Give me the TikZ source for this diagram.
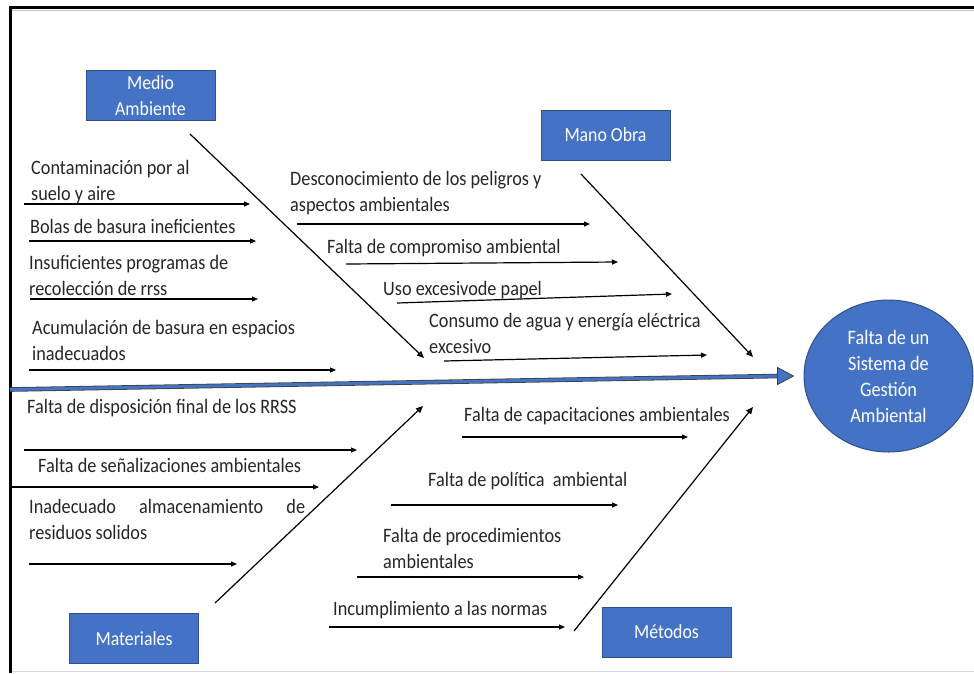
\documentclass[tikz,border=0pt]{standalone}
\usepackage{fontspec}
\setmainfont{Carlito}[FakeStretch=0.89]
\usepackage{xcolor}
\usepackage{tikz}
\usetikzlibrary{
	arrows.meta,
	calc,
	shapes.geometric
}
\definecolor{BoxBlue}{RGB}{68,114,196}
\definecolor{EdgeBlue}{RGB}{47,82,143}
\definecolor{TipBlue}{RGB}{31,56,100}

\tikzset{
	categoria/.style={draw=EdgeBlue, fill=BoxBlue, line width=1pt, text=white, align=center,
		minimum width=129pt, minimum height=50pt, inner sep=0pt, font=\fontsize{20}{26}\selectfont},
	efecto/.style={ellipse, draw=EdgeBlue, fill=BoxBlue, line width=1pt, text=white, align=center,
		minimum width=169pt, minimum height=152pt, inner sep=0pt, font=\fontsize{20.5}{26}\selectfont},
	causa/.style={anchor=base west, inner sep=0pt, align=left, text=black!85,
		font=\fontsize{20.5}{25.5}\selectfont},
	flecha/.style={line width=1.2pt, -{Triangle[length=6pt, width=5pt, fill=TipBlue]}},
	espina/.style={line width=1.2pt, -{Triangle[length=7pt, width=6pt, fill=TipBlue]}},
	columna/.style={draw=black!75, double=BoxBlue, double distance=3pt, line width=0.8pt}
}

\begin{document}
\begin{tikzpicture}[x=1pt, y=-1pt]
	\useasboundingbox (0,0) rectangle (974,673);
	
	% marco
	\draw[gray!45, line width=1pt] (10,10) -- (974,10);
	\draw[gray!30, line width=1pt] (10,671.5) -- (974,671.5);
	\draw[line width=2.6pt] (974,7.5) -- (10.5,7.5) -- (10.5,673);
	
	% efecto y categorias
	\node[efecto] (efecto) at (888.5,376) {Falta de un\\Sistema de\\Gestión\\Ambiental};
	\node[categoria] (medio) at (150.5,95.5) {Medio\\Ambiente};
	\node[categoria] (mano) at (605.5,135) {Mano Obra};
	\node[categoria] (materiales) at (134,638.5) {Materiales};
	\node[categoria] (metodos) at (666.5,632) {Métodos};
	
	% columna principal
	\coordinate (cola) at (10,389.5);
	\coordinate (punta) at ($(efecto.west)+(-10pt,0)$);
	\draw[columna] (cola) -- ($(punta)+(-15pt,0)$);
	\draw[draw=black!75, fill=BoxBlue, line width=0.8pt] ($(punta)+(-16pt,-8.5pt)$) -- (punta) -- ($(punta)+(-16pt,8.5pt)$) -- cycle;
	
	% espinas
	\coordinate (medio1) at (190,134);   \coordinate (medio2) at (424,358);
	\coordinate (mano1) at (581,174);    \coordinate (mano2) at (753,357);
	\coordinate (mat1) at (215,603);     \coordinate (mat2) at (423,406);
	\coordinate (met1) at (574,631);     \coordinate (met2) at (753,407);
	\draw[espina] (medio1) -- (medio2);
	\draw[espina] (mano1) -- (mano2);
	\draw[espina] (mat1) -- (mat2);
	\draw[espina] (met1) -- (met2);
	
	% Medio Ambiente
	\node[causa] (ma1) at (31,200) {Contaminación por al\\suelo y aire};
	\coordinate (ma1s) at (24,204);   \coordinate (ma1e) at (250,204);
	\draw[flecha] (ma1s) -- (ma1e);
	\node[causa] (ma2) at (30,233) {Bolas de basura ineficientes};
	\coordinate (ma2s) at (29,241);   \coordinate (ma2e) at (256,241);
	\draw[flecha] (ma2s) -- (ma2e);
	\node[causa] (ma3) at (29,295) {Insuficientes programas de\\recolección de rrss};
	\coordinate (ma3s) at (30,299);   \coordinate (ma3e) at (258,299);
	\draw[flecha] (ma3s) -- (ma3e);
	\node[causa] (ma4) at (32,360) {Acumulación de basura en espacios\\inadecuados};
	\coordinate (ma4s) at (29,370);   \coordinate (ma4e) at (336,370);
	\draw[flecha] (ma4s) -- (ma4e);
	
	% Materiales
	\node[causa] (mt1) at (27,413) {Falta de disposición final de los RRSS};
	\coordinate (mt1s) at (24,450);   \coordinate (mt1e) at (357,450);
	\draw[flecha] (mt1s) -- (mt1e);
	\node[causa] (mt2) at (38,472) {Falta de señalizaciones ambientales};
	\coordinate (mt2s) at (12,487);   \coordinate (mt2e) at (319,487);
	\draw[flecha] (mt2s) -- (mt2e);
	\node[causa] (mt3) at (29,539) {\makebox[276pt][s]{Inadecuado almacenamiento de}\\residuos solidos};
	\coordinate (mt3s) at (29,564);   \coordinate (mt3e) at (237,564);
	\draw[flecha] (mt3s) -- (mt3e);
	
	% Mano Obra
	\node[causa] (mo1) at (290,211) {Desconocimiento de los peligros y\\aspectos ambientales};
	\coordinate (mo1s) at (297,224);  \coordinate (mo1e) at (590,224);
	\draw[flecha] (mo1s) -- (mo1e);
	\node[causa] (mo2) at (327,253) {Falta de compromiso ambiental};
	\coordinate (mo2s) at (346,264);  \coordinate (mo2e) at (618,262);
	\draw[flecha] (mo2s) -- (mo2e);
	\node[causa] (mo3) at (383,295) {Uso excesivode papel};
	\coordinate (mo3s) at (397,303);  \coordinate (mo3e) at (672,294);
	\draw[flecha] (mo3s) -- (mo3e);
	\node[causa] (mo4) at (429,353) {Consumo de agua y energía eléctrica\\excesivo};
	\coordinate (mo4s) at (444,361);  \coordinate (mo4e) at (707,355);
	\draw[flecha] (mo4s) -- (mo4e);
	
	% Métodos
	\node[causa] (me1) at (464,421) {Falta de capacitaciones ambientales};
	\coordinate (me1s) at (462,437);  \coordinate (me1e) at (688,437);
	\draw[flecha] (me1s) -- (me1e);
	\node[causa] (me2) at (428,486) {Falta de política\ \ ambiental};
	\coordinate (me2s) at (391,505);  \coordinate (me2e) at (618,505);
	\draw[flecha] (me2s) -- (me2e);
	\node[causa] (me3) at (383,568) {Falta de procedimientos\\ambientales};
	\coordinate (me3s) at (357,577);  \coordinate (me3e) at (584,577);
	\draw[flecha] (me3s) -- (me3e);
	\node[causa] (me4) at (333,615) {Incumplimiento a las normas};
	\coordinate (me4s) at (329,627);  \coordinate (me4e) at (565,627);
	\draw[flecha] (me4s) -- (me4e);
\end{tikzpicture}
\end{document}
